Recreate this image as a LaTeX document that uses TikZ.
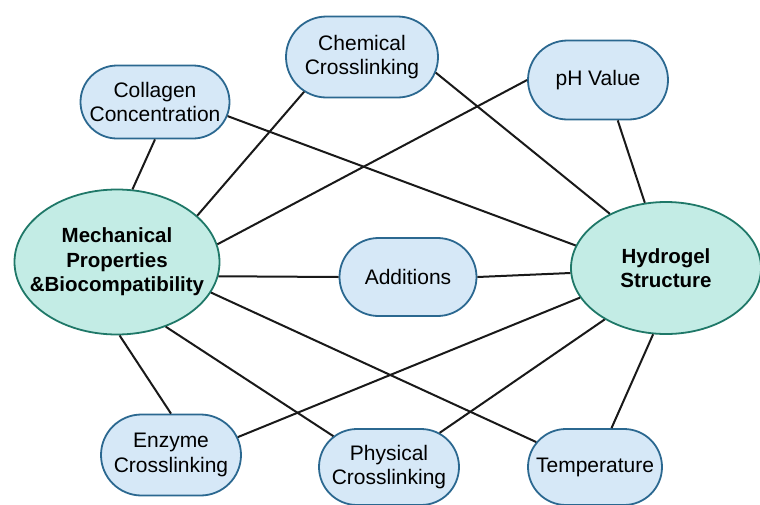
\documentclass[tikz,border=0pt]{standalone}
\usepackage{fontspec}
\setmainfont{Liberation Sans}
\usepackage{tikz}
\usetikzlibrary{shapes.misc,shapes.geometric}
\definecolor{boxfill}{HTML}{D6E8F7}
\definecolor{boxline}{HTML}{2B6890}
\definecolor{corefill}{HTML}{C3ECE5}
\definecolor{coreline}{HTML}{1F7868}

\begin{document}
\begin{tikzpicture}[x=1pt, y=1pt,
    factor/.style = {draw=boxline, fill=boxfill, rounded rectangle, line width=1.8pt, inner sep=0pt, align=center, font=\fontsize{21}{24.5}\selectfont},
    core/.style = {draw=coreline, fill=corefill, ellipse, line width=1.8pt, inner xsep=-25pt, inner ysep=0pt, align=center, font=\fontsize{20.5}{24.5}\selectfont\bfseries},
    link/.style = {line width=2pt, black!90}]
    \useasboundingbox (0,0) rectangle (760,-504);

    \node[core, minimum width=205pt, minimum height=145pt] (mech) at (117,-262) {Mechanical\\Properties\\\&Biocompatibility};
    \node[core, minimum width=190pt, minimum height=132pt] (hyd) at (666,-268) {Hydrogel\\Structure};

    \node[factor, minimum width=149pt, minimum height=73pt] (coll) at (155,-102) {Collagen\\Concentration};
    \node[factor, minimum width=152pt, minimum height=81pt] (chem) at (362,-57) {Chemical\\Crosslinking};
    \node[factor, minimum width=140pt, minimum height=79pt] (ph) at (598,-80) {pH Value};
    \node[factor, minimum width=137pt, minimum height=78pt] (add) at (408,-277) {Additions};
    \node[factor, minimum width=140pt, minimum height=81pt] (enz) at (171,-455) {Enzyme\\Crosslinking};
    \node[factor, minimum width=140pt, minimum height=76pt] (phys) at (389,-467) {Physical\\Crosslinking};
    \node[factor, minimum width=134pt, minimum height=76pt] (temp) at (595,-467) {Temperature};

    \path[link] (coll.south) edge (mech.78);
    \path[link] (coll.-11) edge (hyd.166);
    \path[link] (chem.211) edge (mech.30);
    \path[link] (chem.-12) edge (hyd.136);
    \path[link] (ph.west) edge (mech.10);
    \path[link] (ph.-64) edge (hyd.108);
    \path[link] (mech.-8) edge (add.west);
    \path[link] (add.east) edge (hyd.183);
    \path[link] (mech.-18) edge (temp.157);
    \path[link] (mech.-53) edge (phys.151);
    \path[link] (mech.-88) edge (enz.north);
    \path[link] (enz.15) edge (hyd.199);
    \path[link] (phys.34) edge (hyd.220);
    \path[link] (temp.67) edge (hyd.259);
\end{tikzpicture}
\end{document}
